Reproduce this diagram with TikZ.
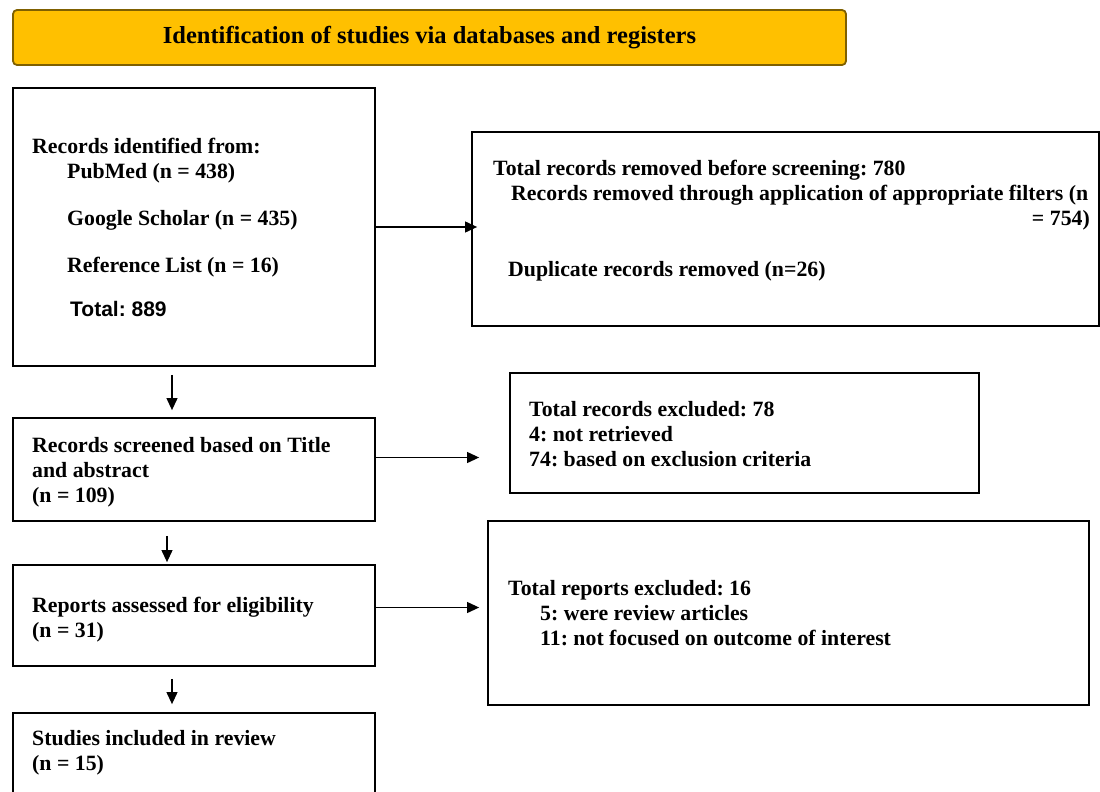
\documentclass[tikz,border=0pt]{standalone}
\usepackage{fontspec}
\setmainfont{Liberation Serif}
\newfontfamily\totalfont{Liberation Sans}
\usetikzlibrary{positioning, arrows.meta}
\definecolor{titlegold}{HTML}{FFC000}
\definecolor{titleedge}{HTML}{7F6000}
\frenchspacing
\newcommand{\boxlines}[1]{\begin{tabular}[t]{@{}l@{}}#1\end{tabular}}
\tikzstyle{box} = [draw, line width=1.8pt, inner sep=0pt]
\tikzstyle{txt} = [inner sep=0pt, anchor=base west]
\tikzstyle{arr} = [-{Triangle[length=12pt,width=11pt]}, line width=1.1pt]

\begin{document}
\begin{tikzpicture}[
    x=1pt, y=-1pt,
    every node/.style={font=\fontsize{21.8}{25}\selectfont\bfseries}
]
    \useasboundingbox (0,0) rectangle (1100,792);
    \node[box, rounded corners=4pt, fill=titlegold, draw=titleedge,
          minimum width=833, minimum height=55,
          font=\fontsize{24.5}{28}\selectfont\bfseries] (title) at (429.5,37.5)
          {Identification of studies via databases and registers};

    % boxes
    \node[box, minimum width=362, minimum height=278] (ident) at (194,227) {};
    \node[box, minimum width=627, minimum height=194] (removed) at (785.5,229) {};
    \node[box, minimum width=362, minimum height=103] (screen) at (194,469.5) {};
    \node[box, minimum width=469, minimum height=120] (excl) at (744.5,433) {};
    \node[box, minimum width=362, minimum height=101] (elig) at (194,615.5) {};
    \node[box, minimum width=601, minimum height=184] (rep) at (788.5,613) {};
    \node[box, minimum width=362, minimum height=117] (incl) at (194,771.5) {};

    % texts
    \node[txt] (identtxt) at (32,153) {\boxlines{Records identified from:\\
        \hspace*{35pt}PubMed (n = 438)\\[22pt]
        \hspace*{35pt}Google Scholar (n = 435)\\[22pt]
        \hspace*{35pt}Reference List (n = 16)\\[19pt]
        \hspace*{38pt}{\totalfont\fontsize{21}{25}\selectfont Total: 889}}};
    \node[txt] (removedtxt) at (493,175) {\boxlines{Total records removed before screening: 780\\
        \hspace*{18pt}Records removed through application of appropriate filters (n\\[51pt]
        \hspace*{15pt}Duplicate records removed (n=26)}};
    \node[txt, anchor=base east] (removednum) at (1090,225) {= 754)};
    \node[txt] (screentxt) at (32,452) {\boxlines{Records screened based on Title\\and abstract\\(n = 109)}};
    \node[txt] (excltxt) at (529,416) {\boxlines{Total records excluded: 78\\4: not retrieved\\74: based on exclusion criteria}};
    \node[txt] (eligtxt) at (32,612) {\boxlines{Reports assessed for eligibility\\(n = 31)}};
    \node[txt] (reptxt) at (508,595) {\boxlines{Total reports excluded: 16\\
        \hspace*{32pt}5: were review articles\\
        \hspace*{32pt}11: not focused on outcome of interest}};
    \node[txt] (incltxt) at (32,745) {\boxlines{Studies included in review\\(n = 15)}};

    % arrows
    \draw[arr, shorten >=-6pt] (ident.east) -- (ident.east -| removed.west);
    \draw[arr, shorten >=30pt] ([yshift=12pt]screen.east) -- ([yshift=12pt]screen.east -| excl.west);
    \draw[arr, shorten >=8pt] ([yshift=8pt]elig.east) -- ([yshift=8pt]elig.east -| rep.west);
    \draw[arr, shorten <=8pt, shorten >=7pt] ([xshift=-22pt]ident.south) -- ([xshift=-22pt]screen.north);
    \draw[arr, shorten <=14pt, shorten >=2pt] ([xshift=-27pt]screen.south) -- ([xshift=-27pt]elig.north);
    \draw[arr, shorten <=12pt, shorten >=8pt] ([xshift=-22pt]elig.south) -- ([xshift=-22pt]incl.north);
\end{tikzpicture}
\end{document}
